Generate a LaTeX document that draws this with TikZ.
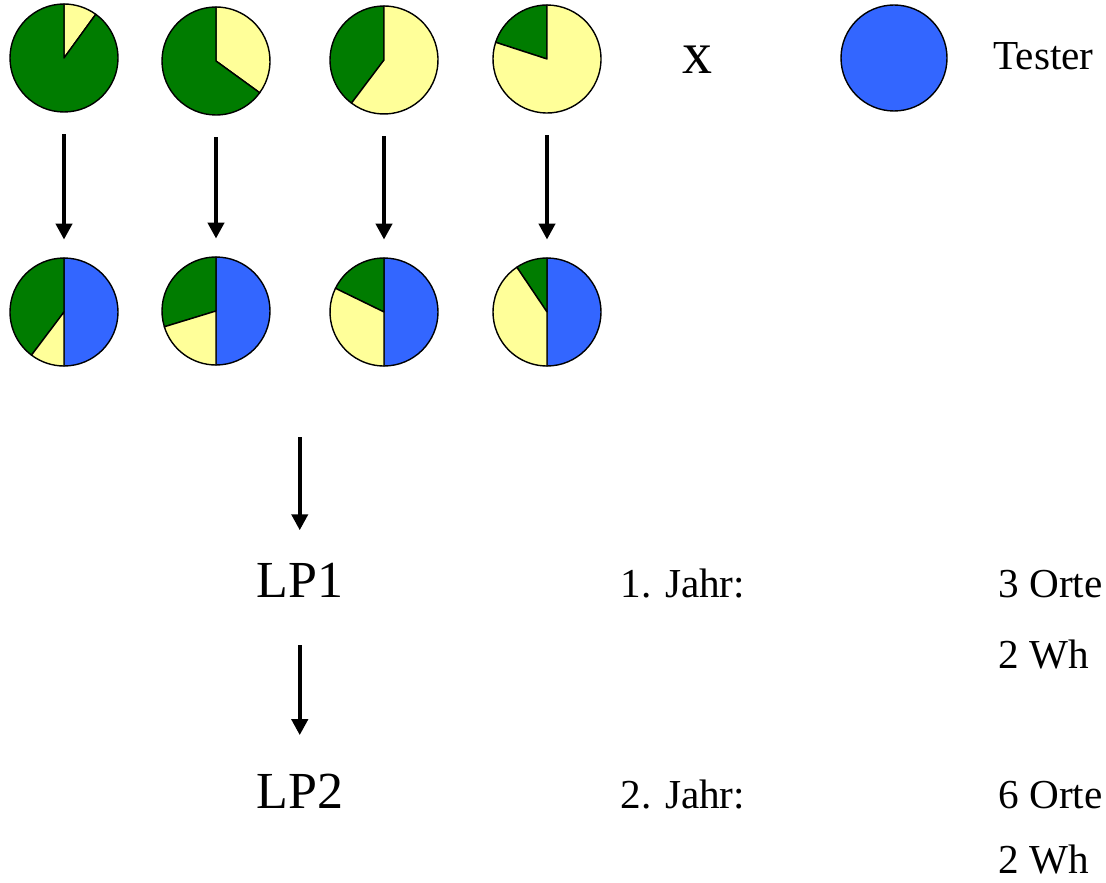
\documentclass[tikz,border=0pt]{standalone}
\usepackage{fontspec}
\setmainfont{Liberation Serif}
\usetikzlibrary{arrows.meta}
\usepackage{xcolor}
\definecolor{pgreen}{RGB}{0,124,0}
\definecolor{pyellow}{RGB}{255,255,153}
\definecolor{pblue}{RGB}{51,102,255}
% one wedge of a pie: centre, start angle, end angle, colour
\newcommand\slice[4]{\filldraw[wedge, fill=#4] (#1.center) -- ++(#2:27pt) arc[start angle=#2, end angle=#3, radius=27pt] -- cycle;}

\begin{document}
\begin{tikzpicture}[x=0.5pt, y=0.5pt,
    pie/.style={circle, inner sep=0pt, minimum size=54pt},
    wedge/.style={draw=black, line width=0.7pt, line join=round},
    arrow/.style={-{Triangle[length=8pt, width=8pt]}, line width=2pt},
    label/.style={inner sep=0pt, anchor=base west, font=\fontsize{20.6}{25}\selectfont},
    lp/.style={inner sep=0pt, anchor=base west, font=\fontsize{26}{31}\selectfont},
]
\useasboundingbox (0,0) rectangle (1106,-882);

% parent lines
\node[pie] (top1) at (64,-58) {};
\node[pie] (top2) at (216,-61) {};
\node[pie] (top3) at (384,-60) {};
\node[pie] (top4) at (547,-59) {};
\slice{top1}{54}{90}{pyellow}
\slice{top1}{90}{414}{pgreen}
\slice{top2}{-36}{90}{pyellow}
\slice{top2}{90}{324}{pgreen}
\slice{top3}{90}{233}{pgreen}
\slice{top3}{233}{450}{pyellow}
\slice{top4}{90}{162}{pgreen}
\slice{top4}{162}{450}{pyellow}

\node[font=\fontsize{30}{36}\selectfont] (cross) at (697,-60) {x};
\node[pie, draw, line width=0.7pt, fill=pblue, minimum size=53pt] (tester) at (894,-58) {};
\node[label] (testername) at (993,-70) {Tester};

% crosses with the tester
\node[pie] (bot1) at (64,-312) {};
\node[pie] (bot2) at (216,-311) {};
\node[pie] (bot3) at (384,-312) {};
\node[pie] (bot4) at (547,-312) {};
\slice{bot1}{-90}{90}{pblue}
\slice{bot1}{90}{233}{pgreen}
\slice{bot1}{233}{270}{pyellow}
\slice{bot2}{-90}{90}{pblue}
\slice{bot2}{90}{197}{pgreen}
\slice{bot2}{197}{270}{pyellow}
\slice{bot3}{-90}{90}{pblue}
\slice{bot3}{90}{154}{pgreen}
\slice{bot3}{154}{270}{pyellow}
\slice{bot4}{-90}{90}{pblue}
\slice{bot4}{90}{124}{pgreen}
\slice{bot4}{124}{270}{pyellow}

\draw[arrow, shorten <=11pt, shorten >=9pt] (top1) -- (bot1);
\draw[arrow, shorten <=11pt, shorten >=9pt] (top2) -- (bot2);
\draw[arrow, shorten <=11pt, shorten >=9pt] (top3) -- (bot3);
\draw[arrow, shorten <=11pt, shorten >=9pt] (top4) -- (bot4);

% testing years
\node[lp] (lp1) at (256,-597) {LP1};
\node[lp] (lp2) at (256,-808) {LP2};
\coordinate (mix) at (lp1.north |- 0,-437);
\draw[arrow, shorten >=16pt] (mix) -- (lp1);
\draw[arrow, shorten <=24pt, shorten >=19pt] (lp1) -- (lp2);

\node[label] (year1) at (620,-597) {1. Jahr:};
\node[label] (sites1) at (998,-597) {3 Orte};
\node[label] (reps1) at (998,-668) {2 Wh};
\node[label] (year2) at (620,-808) {2. Jahr:};
\node[label] (sites2) at (998,-808) {6 Orte};
\node[label] (reps2) at (998,-873) {2 Wh};

\end{tikzpicture}
\end{document}
